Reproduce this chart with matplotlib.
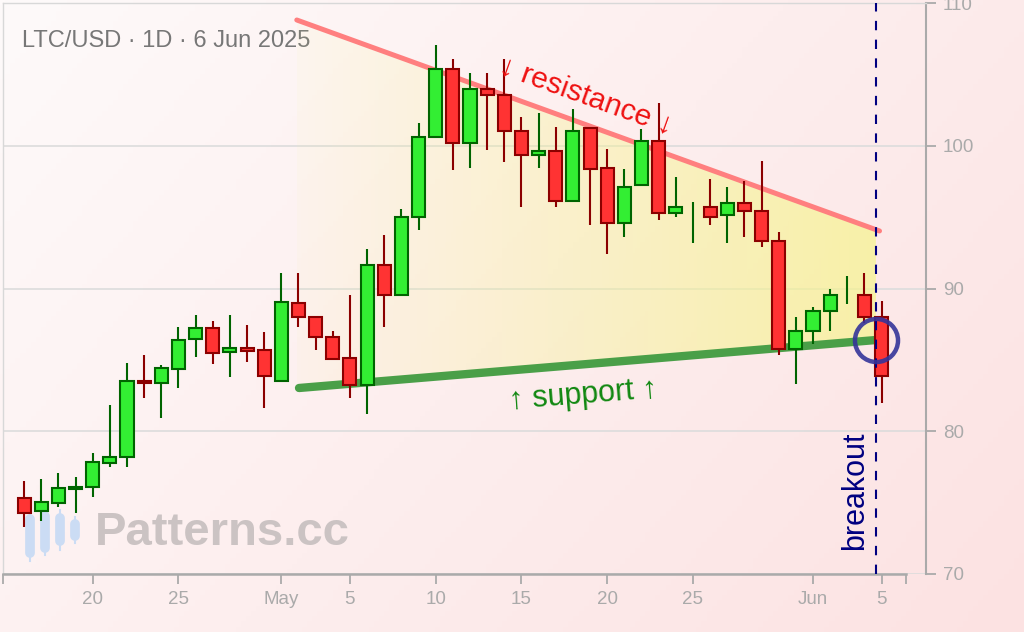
import numpy as np
import pandas as pd
import matplotlib
matplotlib.use('Agg')
import matplotlib.pyplot as plt
from matplotlib.patches import Polygon

# LTC/USD daily candles, 16 Apr - 5 Jun 2025
start_date = '2025-04-16'
opens = [75.31, 74.40, 74.96, 75.95, 76.08, 77.77, 78.19, 83.52, 83.37, 84.35,
         86.45, 87.22, 85.55, 85.80, 85.68, 83.51, 88.98, 88.00, 86.59, 85.12,
         83.23, 91.64, 89.54, 95.00, 100.61, 105.37, 100.19, 103.97, 103.55, 101.03,
         99.35, 99.63, 96.12, 101.24, 98.44, 94.58, 97.25, 100.33, 95.28, 95.40,
         95.70, 95.14, 95.98, 95.42, 93.32, 85.75, 87.01, 88.42, 89.68, 89.54, 88.00]
highs = [76.50, 76.64, 77.06, 76.78, 78.47, 81.83, 84.77, 85.33, 84.63, 87.29,
         88.14, 87.72, 88.14, 87.43, 86.94, 91.08, 91.08, 88.05, 87.01, 89.54,
         92.76, 93.74, 95.56, 101.59, 107.06, 106.08, 105.09, 105.09, 106.08, 102.01,
         102.29, 101.31, 102.57, 101.31, 99.77, 98.37, 101.17, 102.99, 97.81, 96.05,
         97.67, 97.11, 97.53, 98.93, 93.95, 88.00, 88.70, 89.96, 90.87, 91.08, 89.12]
lows = [73.28, 73.70, 74.68, 74.26, 75.38, 77.48, 77.48, 82.32, 80.92, 83.02,
        85.19, 84.70, 83.79, 84.84, 81.62, 83.44, 87.29, 85.68, 85.00, 82.32,
        81.20, 87.29, 89.50, 94.09, 100.55, 98.30, 98.44, 99.70, 98.86, 95.70,
        98.44, 95.70, 96.05, 94.44, 92.41, 93.60, 97.20, 94.79, 95.00, 93.18,
        94.44, 93.18, 93.60, 92.90, 85.33, 83.30, 86.10, 87.01, 88.90, 87.60, 81.97]
closes = [74.26, 75.03, 76.01, 76.10, 77.83, 78.19, 83.51, 83.40, 84.42, 86.38,
          87.22, 85.47, 85.80, 85.62, 83.86, 89.05, 88.00, 86.59, 85.05, 83.23,
          91.64, 89.54, 95.00, 100.61, 105.37, 100.19, 103.97, 103.55, 101.03, 99.35,
          99.63, 96.12, 101.03, 98.37, 94.58, 97.11, 100.33, 95.28, 95.70, 95.40,
          95.00, 95.98, 95.42, 93.32, 85.75, 87.01, 88.42, 89.54, 89.68, 88.00, 83.86]

tick_dates = ['2025-04-20', '2025-04-25', '2025-05-01', '2025-05-05', '2025-05-10',
              '2025-05-15', '2025-05-20', '2025-05-25', '2025-06-01', '2025-06-05']
tick_labels = ['20', '25', 'May', '5', '10', '15', '20', '25', 'Jun', '5']
y_ticks = [70, 80, 90, 100, 110]

# pattern lines (day offset, price)
resistance_x = [15.9, 49.88]
resistance_y = [108.81, 94.03]
support_x = [16.03, 49.67]
support_y = [83.03, 86.39]
breakout_day = 49.67
breakout_price = 86.39

title = 'LTC/USD · 1D · 6 Jun 2025'

dates = pd.date_range(start_date, periods=len(opens))
x = np.array((dates - dates[0]).days, dtype=float)
tick_x = [(pd.Timestamp(d) - dates[0]).days for d in tick_dates]

W, H = 1024, 632
fig = plt.figure(figsize=(W / 100, H / 100), dpi=100)
FONT = ['Liberation Sans', 'DejaVu Sans']
plt.rcParams['font.family'] = FONT

# background gradient + watermark layer
bg = fig.add_axes([0, 0, 1, 1], zorder=0)
bg.set_xlim(0, W)
bg.set_ylim(H, 0)
bg.axis('off')
gx, gy = np.meshgrid(np.linspace(0, 1, 200), np.linspace(0, 1, 120))
t = np.clip(0.65 * gx + 0.35 * gy, 0, 1)[..., None]
c0 = np.array([254, 250, 250]) / 255
c1 = np.array([252, 226, 226]) / 255
bg.imshow(c0 + (c1 - c0) * t, extent=[0, W, H, 0], aspect='auto', zorder=0)
icon_col = '#cbdcf4'
for ix, wt, wb, bt, bb in [(30, 510, 561, 519, 553), (45, 505, 555, 516, 548),
                           (60, 510, 550, 518, 541), (75, 517, 543, 524, 536)]:
    bg.plot([ix, ix], [wt, wb], color=icon_col, lw=1.5, zorder=1)
    bg.plot([ix, ix], [bt, bb], color=icon_col, lw=7, solid_capstyle='round', zorder=1)
bg.text(95, 533, 'Patterns.cc', fontsize=34, fontweight='bold', color='#cbc3c3',
        va='center', ha='left', zorder=2)
bg.text(22, 41, title, fontsize=17, color='#777777', va='center', ha='left', zorder=2)

ax = fig.add_axes([3 / W, (H - 574) / H, 923 / W, 571 / H], zorder=1)
ax.patch.set_alpha(0)

# triangle fill with gradient
fx = np.array([resistance_x[0], breakout_day])
r_slope = (resistance_y[1] - resistance_y[0]) / (resistance_x[1] - resistance_x[0])
s_slope = (support_y[1] - support_y[0]) / (support_x[1] - support_x[0])
r_at = resistance_y[0] + r_slope * (fx - resistance_x[0])
s_at = support_y[0] + s_slope * (fx - support_x[0])
verts = [(fx[0], r_at[0]), (fx[1], r_at[1]), (fx[1], s_at[1]), (fx[0], s_at[0])]
tri = Polygon(verts, closed=True, facecolor='none', edgecolor='none')
ax.add_patch(tri)
grad = np.zeros((2, 256, 4))
grad[..., 0] = 0.965
grad[..., 1] = 0.96
grad[..., 2] = 0.55
grad[..., 3] = np.linspace(0.06, 0.7, 256)[None, :]
im = ax.imshow(grad, extent=[fx[0], fx[1], 80, 110], aspect='auto', zorder=1,
               interpolation='bilinear')
im.set_clip_path(tri)
ax.set_xlim(-1.23, 52.59)
ax.set_ylim(70, 110)

ax.plot(resistance_x, resistance_y, color='#ff7f7f', lw=3.6, solid_capstyle='round', zorder=2)
ax.plot(support_x, support_y, color='#4a9f48', lw=6.0, solid_capstyle='round', zorder=2)

# candles
bw = 0.76
for xi, o, h, l, c in zip(x, opens, highs, lows, closes):
    up = c >= o
    edge = '#006400' if up else '#8b0000'
    face = '#33ee33' if up else '#ff3333'
    ax.plot([xi, xi], [l, h], color=edge, lw=1.5, zorder=3, solid_capstyle='butt')
    if abs(c - o) > 0.01:
        ax.add_patch(plt.Rectangle((xi - bw / 2, min(o, c)), bw, abs(c - o),
                                   facecolor=face, edgecolor=edge, lw=1.5, zorder=4))

ax.axvline(breakout_day, color='#000080', lw=1.5, ls=(0, (4.5, 4.5)), zorder=5)
ax.plot([breakout_day], [breakout_price], 'o', ms=31, mfc='none', mec='#34349a',
        mew=3.2, alpha=0.9, zorder=6)

ax.text(32.76, 103.42, '↓ resistance ↓', color='#ee1111', fontsize=21.5, rotation=-19.8,
        rotation_mode='anchor', ha='center', va='center', zorder=6)
ax.text(32.59, 82.54, '↑ support ↑', color='#118811', fontsize=22, rotation=4.5,
        rotation_mode='anchor', ha='center', va='center', zorder=6)
ax.text(48.45, 75.81, 'breakout', color='#000080', fontsize=22, rotation=90,
        ha='center', va='center', zorder=6)

# axes styling
ax.yaxis.tick_right()
ax.set_yticks(y_ticks)
ax.set_yticklabels([str(v) for v in y_ticks])
ax.set_xticks(tick_x)
ax.set_xticklabels(tick_labels)
ax.set_xticks([-1.23, 51.42], minor=True)
ax.tick_params(axis='both', which='both', colors='#aaaaaa', labelcolor='#aaaaaa',
               labelsize=13.5, length=7, width=1.3, direction='out')
ax.tick_params(axis='x', pad=5)
ax.tick_params(axis='y', pad=5)
ax.yaxis.grid(True, color='#dcdcdc', lw=1.2)
ax.set_axisbelow(True)
for s in ['left', 'top']:
    ax.spines[s].set_color('#d8d8d8')
    ax.spines[s].set_linewidth(1.0)
ax.spines['right'].set_color('#aaaaaa')
ax.spines['right'].set_linewidth(1.5)
ax.spines['bottom'].set_color('#aaaaaa')
ax.spines['bottom'].set_linewidth(1.8)
ax.spines['bottom'].set_bounds(-1.23, 51.42)

fig.savefig('out.png', dpi=100)
